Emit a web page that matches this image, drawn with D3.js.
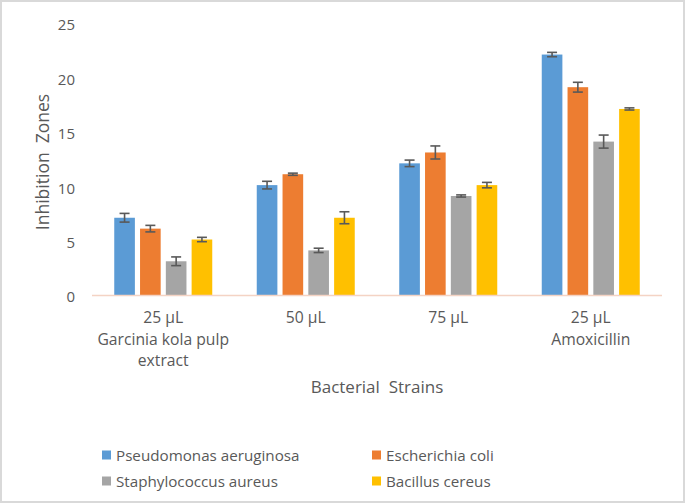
<!DOCTYPE html>
<html><head><meta charset="utf-8">
<script src="https://cdn.jsdelivr.net/npm/d3@7"></script>
<style>body{margin:0;background:#fff}svg{display:block}</style>
</head><body>
<svg id="c" width="685" height="503"></svg>
<script>
const categories = [["25 µL","Garcinia kola pulp","extract"],["50 µL"],["75 µL"],["25 µL","Amoxicillin"]];
const seriesNames = ["Pseudomonas aeruginosa","Escherichia coli","Staphylococcus aureus","Bacillus cereus"];
const seriesColors = ["#5B9BD5","#ED7D31","#A5A5A5","#FFC000"];
const pseudomonas = [7.1,10.1,12.1,22.1];
const ecoli = [6.1,11.1,13.1,19.1];
const staph = [3.1,4.1,9.1,14.1];
const bacillus = [5.1,7.1,10.1,17.1];
const errPseudomonas = [0.4,0.35,0.3,0.2];
const errEcoli = [0.3,0.1,0.6,0.45];
const errStaph = [0.4,0.2,0.1,0.6];
const errBacillus = [0.2,0.55,0.25,0.1];
const yTicks = [0,5,10,15,20,25];

const values = [pseudomonas, ecoli, staph, bacillus];
const errors = [errPseudomonas, errEcoli, errStaph, errBacillus];
const svg = d3.select("#c");
const font = "'Open Sans', sans-serif";
const txt = "#595959";

svg.append("rect").attr("x",1).attr("y",1).attr("width",683).attr("height",501)
  .attr("fill","#fff").attr("stroke","#d9d9d9").attr("stroke-width",2);

const x0 = d3.scaleBand().domain(d3.range(categories.length)).range([92,662]).paddingInner(0).paddingOuter(0);
const x1 = d3.scaleBand().domain(d3.range(4)).range([0,98]).paddingInner(0.2).paddingOuter(0);
const y = d3.scaleLinear().domain([0,25]).range([295,23]);

// y tick labels
const yAxis = d3.axisLeft(y).tickValues(yTicks).tickSize(0).tickPadding(0);
const ya = svg.append("g").attr("transform","translate(75,2)").call(yAxis);
ya.select(".domain").remove();
ya.selectAll("text").attr("font-family",font).attr("font-size",15).attr("fill",txt);

// bars
const groups = svg.append("g").selectAll("g").data(categories).join("g")
  .attr("transform",(d,i)=>`translate(${x0(i)+(x0.bandwidth()-98)/2},0)`);
values.forEach((vals,s)=>{
  groups.append("rect")
    .attr("x",x1(s)).attr("width",x1.bandwidth())
    .attr("y",(d,i)=>y(vals[i])).attr("height",(d,i)=>y(0)-y(vals[i]))
    .attr("fill",seriesColors[s]);
});
// error bars
values.forEach((vals,s)=>{
  const cx = x1(s)+x1.bandwidth()/2;
  groups.each(function(d,i){
    const g = d3.select(this);
    const v = vals[i], e = errors[s][i];
    const l1 = g.append("line").attr("x1",cx).attr("x2",cx).attr("y1",y(v+e)).attr("y2",y(v-e));
    const l2 = g.append("line").attr("x1",cx-5).attr("x2",cx+5).attr("y1",y(v+e)).attr("y2",y(v+e));
    const l3 = g.append("line").attr("x1",cx-5).attr("x2",cx+5).attr("y1",y(v-e)).attr("y2",y(v-e));
    [l1,l2,l3].forEach(l=>l.attr("stroke","#595959").attr("stroke-width",1.6));
  });
});

// x axis line
svg.append("line").attr("x1",92).attr("x2",662).attr("y1",y(0)+0.5).attr("y2",y(0)+0.5)
  .attr("stroke","#f4d3c4").attr("stroke-width",1.5);

// x labels
const xl = svg.append("g").selectAll("text").data(categories).join("text")
  .attr("font-family",font).attr("font-size",15.7).attr("fill",txt).attr("text-anchor","middle");
xl.each(function(lines,i){
  const t = d3.select(this);
  lines.forEach((ln,k)=>{
    t.append("tspan").attr("x",x0(i)+x0.bandwidth()/2).attr("y",323+k*21.5).text(ln);
  });
});

// axis titles
svg.append("text").attr("x",377).attr("y",393).attr("text-anchor","middle")
  .attr("font-family",font).attr("font-size",17).attr("fill",txt)
  .style("white-space","pre").text("Bacterial  Strains");
svg.append("text").attr("transform","translate(49,162) rotate(-90)").attr("text-anchor","middle")
  .attr("font-family",font).attr("font-size",17.5).attr("fill",txt)
  .style("white-space","pre").text("Inhibition  Zones");

// legend
const legPos = [[102,455],[372,455],[102,481],[372,481]];
seriesNames.forEach((n,s)=>{
  const [lx,ly] = legPos[s];
  svg.append("rect").attr("x",lx).attr("y",ly-4.5).attr("width",9).attr("height",9).attr("fill",seriesColors[s]);
  svg.append("text").attr("x",lx+14).attr("y",ly+5.5).attr("font-family",font).attr("font-size",15.2)
    .attr("fill",txt).text(n);
});
</script>
</body></html>
